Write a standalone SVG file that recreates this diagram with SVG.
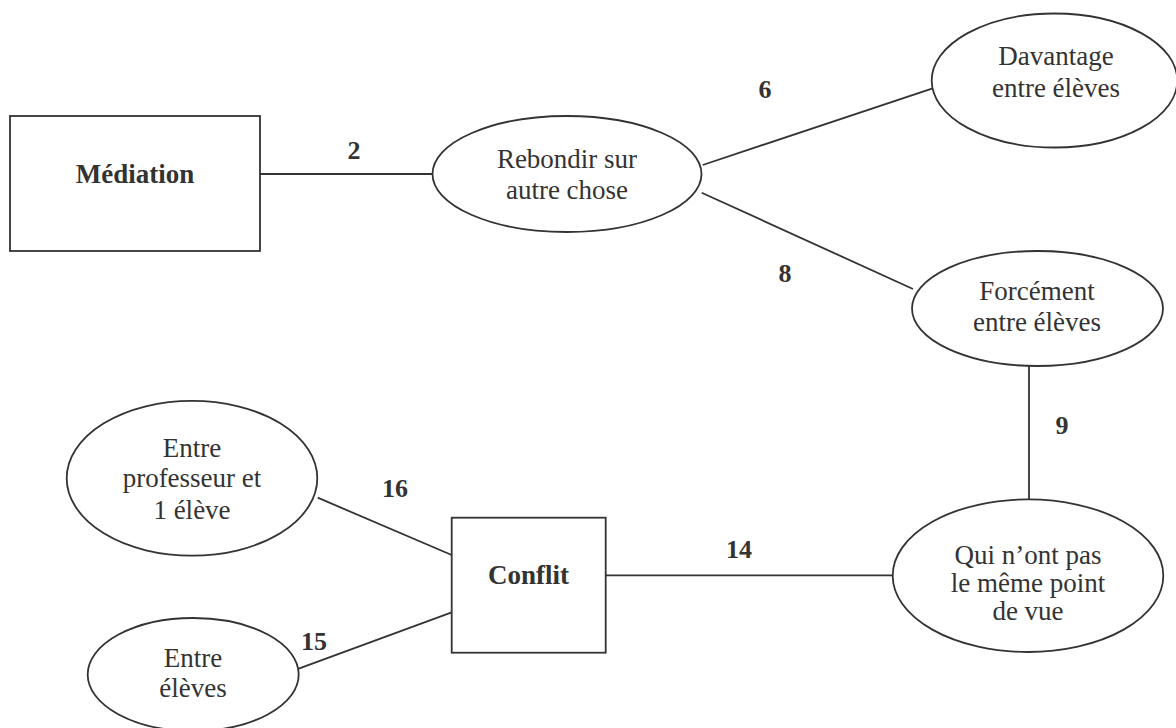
<svg xmlns="http://www.w3.org/2000/svg" width="1176" height="728" viewBox="0 0 1176 728">
<style>
.shape{fill:#fff;stroke:#333;stroke-width:1.8}
.edge{stroke:#333;stroke-width:1.8;fill:none}
text{font-family:"Liberation Serif","Times New Roman",serif;font-size:27px;fill:#333;text-anchor:middle}
.b{font-weight:bold}
.n{font-size:26px}
</style>
<rect width="1176" height="728" fill="#fff"/>
<g id="connectors">
<line class="edge" x1="260" y1="174" x2="433" y2="174"/>
<line class="edge" x1="702.7" y1="165" x2="932.7" y2="88.3"/>
<line class="edge" x1="701.7" y1="192.7" x2="913" y2="289"/>
<line class="edge" x1="1029" y1="366" x2="1029" y2="501"/>
<line class="edge" x1="605.7" y1="575.3" x2="893" y2="575.3"/>
<line class="edge" x1="317.7" y1="497.7" x2="451.7" y2="555"/>
<line class="edge" x1="298.7" y1="668.7" x2="451.7" y2="612.3"/>
<text class="b n" x="354" y="159">2</text>
<text class="b n" x="765" y="98">6</text>
<text class="b n" x="785" y="282">8</text>
<text class="b n" x="1062" y="434">9</text>
<text class="b n" x="739" y="558">14</text>
<text class="b n" x="395" y="497">16</text>
<text class="b n" x="314" y="650">15</text>
</g>
<g id="mediation">
<rect class="shape" x="10" y="116" width="250" height="135"/>
<text class="b" x="135" y="182.5">Médiation</text>
</g>
<g id="rebondir">
<ellipse class="shape" cx="567" cy="174" rx="134.5" ry="58"/>
<text x="567" y="168">Rebondir sur</text>
<text x="567" y="199">autre chose</text>
</g>
<g id="davantage">
<ellipse class="shape" cx="1054.5" cy="80.5" rx="122.8" ry="67"/>
<text x="1056" y="65">Davantage</text>
<text x="1056" y="97">entre élèves</text>
</g>
<g id="forcement">
<ellipse class="shape" cx="1037.5" cy="308.5" rx="125.5" ry="57.5"/>
<text x="1037" y="300">Forcément</text>
<text x="1037" y="331">entre élèves</text>
</g>
<g id="qui">
<ellipse class="shape" cx="1028" cy="575.7" rx="135.3" ry="76.3"/>
<text x="1028" y="564">Qui n’ont pas</text>
<text x="1028" y="592">le même point</text>
<text x="1028" y="620">de vue</text>
</g>
<g id="conflit">
<rect class="shape" x="451.7" y="517.7" width="154" height="135"/>
<text class="b" x="528.5" y="584">Conflit</text>
</g>
<g id="entre-prof">
<ellipse class="shape" cx="192" cy="478.3" rx="125.3" ry="77.4"/>
<text x="192" y="457">Entre</text>
<text x="192" y="487">professeur et</text>
<text x="192" y="519">1 élève</text>
</g>
<g id="entre-eleves">
<ellipse class="shape" cx="193.2" cy="674.5" rx="105.5" ry="56.5"/>
<text x="193" y="667">Entre</text>
<text x="193" y="697">élèves</text>
</g>
</svg>
